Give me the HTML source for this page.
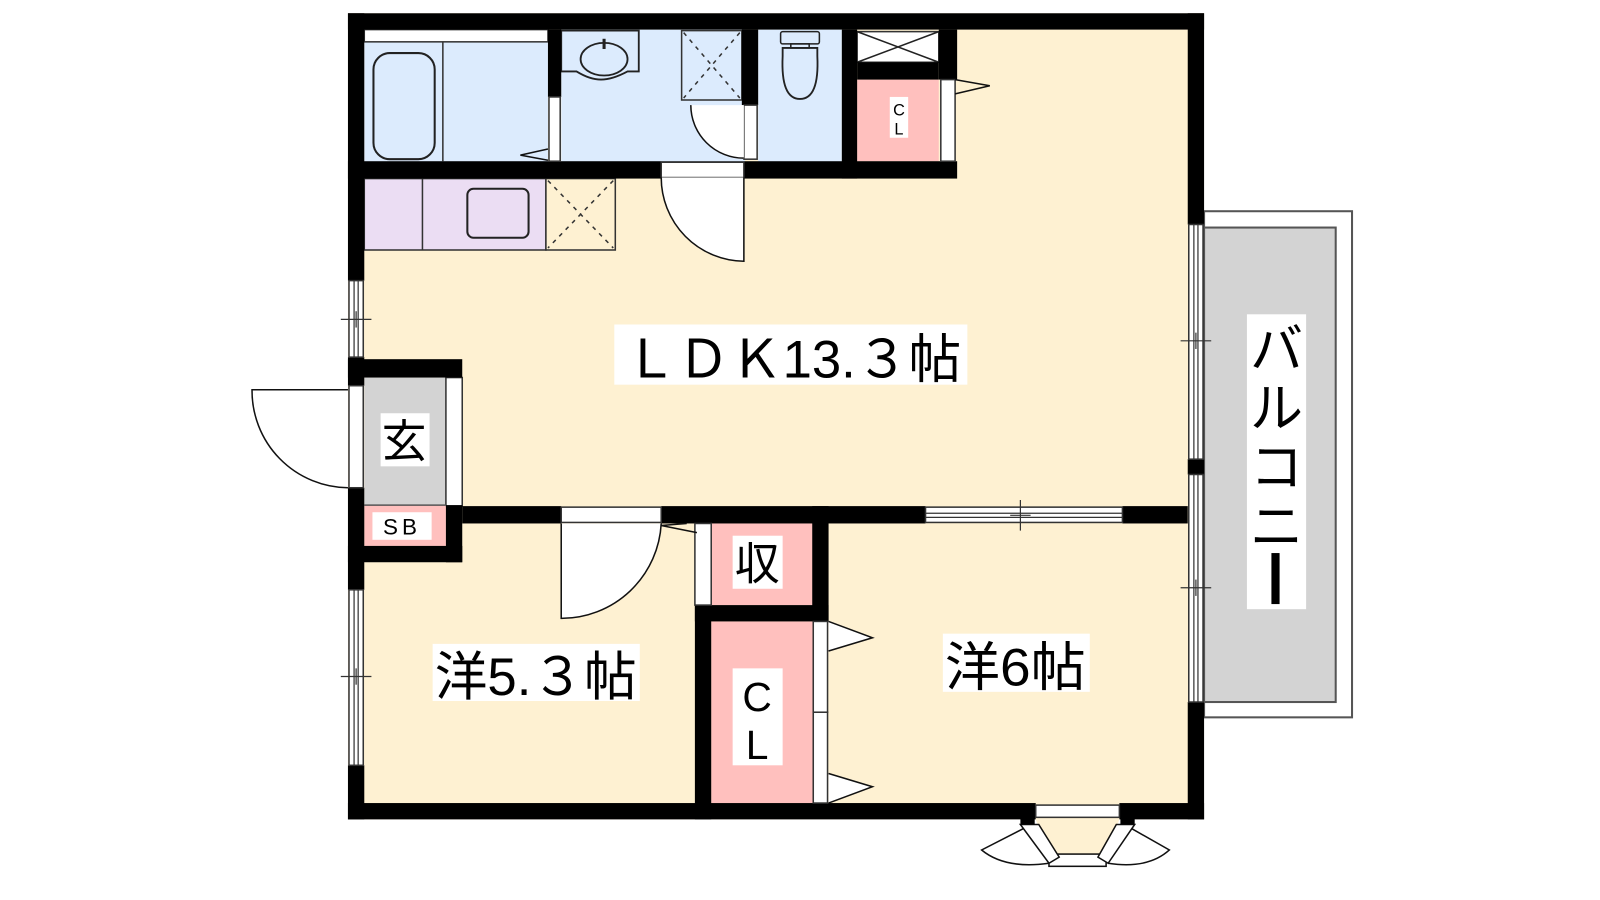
<!DOCTYPE html>
<html><head><meta charset="utf-8"><style>
html,body{margin:0;padding:0;background:#fff;width:1600px;height:900px;overflow:hidden}
svg{display:block}
text{font-family:"Liberation Sans","Noto Sans CJK JP",sans-serif;fill:#000}
</style></head><body>
<svg width="1600" height="900" viewBox="0 0 1600 900" xmlns="http://www.w3.org/2000/svg">
<g transform="scale(1.0204)">
<!-- floor -->
<rect x="341" y="13" width="839" height="790" fill="#FEF1D2"/>
<!-- balcony -->
<rect x="1180" y="207" width="145" height="496" fill="#fff" stroke="#555" stroke-width="2"/>
<rect x="1180" y="223" width="129" height="465" fill="#D3D3D3" stroke="#555" stroke-width="2"/>
<!-- top wet rooms -->
<rect x="357" y="29" width="180" height="130" fill="#DCEBFD"/>
<rect x="550" y="29" width="180" height="130" fill="#DCEBFD"/>
<rect x="743" y="29" width="82" height="130" fill="#DCEBFD"/>
<rect x="357" y="29" width="180" height="12" fill="#fff" stroke="#333" stroke-width="1.5"/>
<line x1="434" y1="41" x2="434" y2="158" stroke="#333" stroke-width="1.5"/>
<rect x="366" y="52" width="60" height="104" rx="16" fill="none" stroke="#222" stroke-width="2"/>
<!-- basin -->
<path d="M550 30 H626 V70 H615 Q600 78 589 78 Q578 78 565 70 H550 Z" fill="none" stroke="#222" stroke-width="1.8"/>
<ellipse cx="592" cy="58" rx="23" ry="16" fill="none" stroke="#222" stroke-width="1.8"/>
<line x1="592" y1="38" x2="592" y2="48" stroke="#222" stroke-width="3"/>
<!-- shower box -->
<rect x="668" y="30" width="59" height="68" fill="#DCEBFD" stroke="#333" stroke-width="1.5"/>
<path d="M670 32 L725 96 M725 32 L670 96" stroke="#333" stroke-width="1.5" stroke-dasharray="4 5"/>
<!-- toilet -->
<rect x="765" y="31" width="38" height="12" rx="2" fill="none" stroke="#222" stroke-width="1.5"/>
<rect x="775" y="43" width="18" height="4" fill="none" stroke="#222" stroke-width="1.5"/>
<path d="M767 47 H801 V55 Q803 97 784 97 Q765 97 767 55 Z" fill="none" stroke="#222" stroke-width="1.8"/>
<!-- CL top -->
<rect x="840" y="31" width="80" height="30" fill="#fff" stroke="#333" stroke-width="1.5"/>
<path d="M840 31 L920 61 M920 31 L840 61" stroke="#222" stroke-width="1.5"/>
<rect x="840" y="78" width="80" height="80" fill="#FFC0BE"/>
<!-- kitchen -->
<rect x="357" y="175" width="178" height="70" fill="#EBDDF3" stroke="#333" stroke-width="1.5"/>
<line x1="414" y1="175" x2="414" y2="245" stroke="#333" stroke-width="1.5"/>
<rect x="458" y="185" width="60" height="48" rx="6" fill="none" stroke="#222" stroke-width="2"/>
<rect x="535" y="175" width="68" height="70" fill="#FEF1D2" stroke="#333" stroke-width="1.5"/>
<path d="M537 177 L601 243 M601 177 L537 243" stroke="#333" stroke-width="1.5" stroke-dasharray="4 5"/>
<!-- genkan -->
<rect x="357" y="370" width="80" height="125" fill="#D3D3D3"/>
<rect x="437" y="370" width="16" height="126" fill="#fff" stroke="#333" stroke-width="1.5"/>
<rect x="357" y="495" width="80" height="40" fill="#FFC0BE"/>
<line x1="357" y1="495" x2="437" y2="495" stroke="#555" stroke-width="1.5"/>
<!-- closets -->
<rect x="697" y="513" width="100" height="80" fill="#FFC0BE"/>
<rect x="697" y="609" width="100" height="178" fill="#FFC0BE"/>

<!-- WALLS -->
<g fill="#000">
<rect x="341" y="13" width="839" height="16"/>
<rect x="341" y="13" width="16" height="262"/>
<rect x="341" y="350" width="16" height="28"/>
<rect x="341" y="478" width="16" height="100"/>
<rect x="341" y="750" width="16" height="53"/>
<rect x="341" y="787" width="674" height="16"/>
<rect x="1097" y="787" width="83" height="16"/>
<rect x="1164" y="13" width="16" height="207"/>
<rect x="1164" y="450" width="16" height="15"/>
<rect x="1164" y="688" width="16" height="115"/>
<rect x="341" y="158" width="597" height="17"/>
<rect x="537" y="29" width="13" height="66"/>
<rect x="727" y="29" width="16" height="74"/>
<rect x="825" y="29" width="15" height="146"/>
<rect x="920" y="29" width="18" height="49"/>
<rect x="840" y="61" width="80" height="17"/>
<rect x="341" y="352" width="112" height="18"/>
<rect x="437" y="495" width="16" height="56"/>
<rect x="341" y="535" width="112" height="16"/>
<rect x="453" y="496" width="97" height="17"/>
<rect x="648" y="496" width="259" height="17"/>
<rect x="1100" y="496" width="64" height="17"/>
<rect x="796" y="496" width="16" height="113"/>
<rect x="681" y="593" width="131" height="16"/>
<rect x="681" y="593" width="16" height="210"/>
</g>
<!-- doors/windows white strips -->
<g fill="#fff" stroke="#333" stroke-width="1.5">
<rect x="538" y="95" width="11" height="63"/>
<rect x="729" y="103" width="13" height="53"/>
<rect x="922" y="78" width="14" height="80"/>
<rect x="648" y="159" width="81" height="15"/>
<rect x="550" y="497" width="98" height="15"/>
<rect x="681" y="513" width="16" height="80"/>
<rect x="797" y="609" width="14" height="89"/>
<rect x="797" y="698" width="14" height="89"/>
<rect x="342" y="378" width="14" height="100"/>
<rect x="342" y="275" width="14" height="75"/>
<rect x="342" y="578" width="14" height="172"/>
<rect x="1165" y="220" width="14" height="230"/>
<rect x="1165" y="465" width="14" height="223"/>
<rect x="907" y="497" width="193" height="15"/>
<rect x="1015" y="789" width="82" height="12"/>
</g>
<g stroke="#333" stroke-width="1.2" fill="none">
<line x1="347" y1="275" x2="347" y2="350"/><line x1="351" y1="275" x2="351" y2="350"/>
<line x1="347" y1="578" x2="347" y2="750"/><line x1="351" y1="578" x2="351" y2="750"/>
<line x1="1170" y1="220" x2="1170" y2="450"/><line x1="1174" y1="220" x2="1174" y2="450"/>
<line x1="1170" y1="465" x2="1170" y2="688"/><line x1="1174" y1="465" x2="1174" y2="688"/>
<line x1="907" y1="503" x2="1100" y2="503"/><line x1="907" y1="507" x2="1100" y2="507"/>
<line x1="334" y1="313" x2="364" y2="313"/><line x1="349" y1="305" x2="349" y2="321"/>
<line x1="334" y1="663" x2="364" y2="663"/><line x1="349" y1="655" x2="349" y2="671"/>
<line x1="1157" y1="334" x2="1187" y2="334"/><line x1="1172" y1="326" x2="1172" y2="342"/>
<line x1="1157" y1="576" x2="1187" y2="576"/><line x1="1172" y1="568" x2="1172" y2="584"/>
<line x1="1000" y1="490" x2="1000" y2="520"/><line x1="990" y1="505" x2="1010" y2="505"/>
</g>
<!-- door swings -->
<g stroke="#111" stroke-width="1.5" fill="#fff">
<path d="M729 174 V256 A82 82 0 0 1 648 174"/>
<path d="M550 513 V606 A98 98 0 0 0 648 513"/>
<path d="M729 103 V156 A52 52 0 0 1 677 103 Z" fill="#fff" stroke="none"/>
<path d="M677 103 A52 52 0 0 0 729 155" fill="none"/>
<path d="M341 382 H247 A95 95 0 0 0 341 478" fill="none"/>
<path d="M812 609 L855 625 L812 638" fill="#fff"/>
<path d="M812 758 L855 771 L812 787" fill="#fff"/>
<path d="M537 146 L510 152 L537 157" fill="none"/>
<path d="M936 78 L970 84 L936 92" fill="none"/>
<path d="M648 515 L683 522 M648 515 L673 513" fill="none"/>
</g>
<!-- bay window -->
<path d="M1015 803 L1097 803 L1082 843 L1030 843 Z" fill="#FEF1D2"/>
<g stroke="#111" stroke-width="1.5" fill="#fff">
<rect x="1028" y="837" width="56" height="12"/>
<path d="M1000 808 L1018 808 L1038 840 L1028 846 Z"/>
<path d="M1112 808 L1094 808 L1076 840 L1086 846 Z"/>
<path d="M1003 812 L962 833 Q985 852 1028 846" fill="none"/>
<path d="M1109 812 L1146 833 Q1125 852 1086 846" fill="none"/>
</g>
<rect x="1000" y="800" width="14" height="8" fill="#000"/>
<rect x="1098" y="800" width="14" height="8" fill="#000"/>

<!-- labels -->
<rect x="602" y="318" width="346" height="59" fill="#fff"/>
<text x="612" y="370" font-size="52" textLength="330" lengthAdjust="spacingAndGlyphs">ＬＤＫ13.３帖</text>
<rect x="424" y="631" width="203" height="56" fill="#fff"/>
<text x="426" y="681" font-size="52" textLength="198" lengthAdjust="spacingAndGlyphs">洋5.３帖</text>
<rect x="924" y="621" width="144" height="57" fill="#fff"/>
<text x="926" y="672" font-size="52" textLength="138" lengthAdjust="spacingAndGlyphs">洋6帖</text>
<rect x="373" y="405" width="48" height="52" fill="#fff"/>
<text x="374" y="448" font-size="44">玄</text>
<rect x="718" y="525" width="49" height="52" fill="#fff"/>
<text x="720" y="568" font-size="44">収</text>
<rect x="718" y="655" width="49" height="95" fill="#fff"/>
<text x="742" y="697" font-size="40" text-anchor="middle">C</text>
<text x="742" y="744" font-size="40" text-anchor="middle">L</text>
<rect x="365" y="502" width="58" height="27" fill="#fff"/>
<text x="394" y="524" font-size="22" text-anchor="middle" letter-spacing="4">SB</text>
<rect x="872" y="95" width="18" height="40" fill="#fff"/>
<text x="881" y="113" font-size="16" text-anchor="middle">C</text>
<text x="881" y="132" font-size="16" text-anchor="middle">L</text>
<rect x="1222" y="308" width="58" height="289" fill="#fff"/>
<text x="1251" y="360" font-size="52" text-anchor="middle">バ</text>
<text x="1251" y="418" font-size="52" text-anchor="middle">ル</text>
<text x="1251" y="476" font-size="52" text-anchor="middle">コ</text>
<text x="1251" y="534" font-size="52" text-anchor="middle">ニ</text>
<rect x="1246" y="542" width="8" height="50" fill="#000"/>
</g>
</svg>
</body></html>
